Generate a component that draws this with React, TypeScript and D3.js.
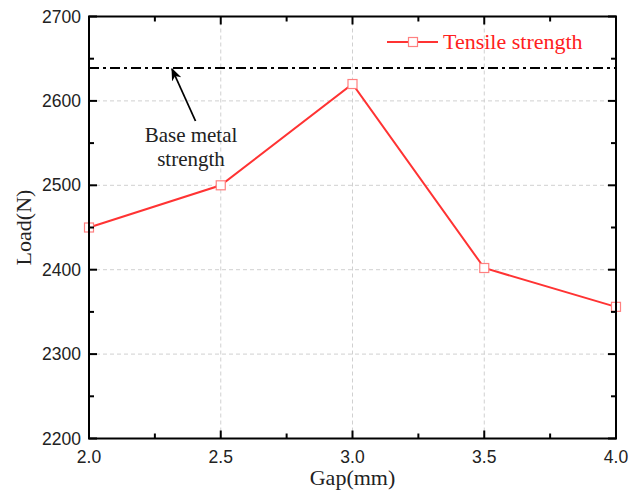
import * as d3 from 'd3';

// gap (mm) vs tensile load (N)
const gaps = [2.0, 2.5, 3.0, 3.5, 4.0];
const loads = [2450, 2500, 2620, 2402, 2356];
const baseMetal = 2639;
const xTicks = [2.0, 2.5, 3.0, 3.5, 4.0];
const yTicks = [2200, 2300, 2400, 2500, 2600, 2700];

const W = 641;
const H = 494;
const m = { left: 89, right: 25, top: 16.5, bottom: 55.5 };

export default function App() {
	const x = d3.scaleLinear().domain([2, 4]).range([m.left, W - m.right]);
	const y = d3.scaleLinear().domain([2200, 2700]).range([H - m.bottom, m.top]);

	const line = d3
		.line<number>()
		.x((_, i) => x(gaps[i]))
		.y((d) => y(d));

	const xMinor = d3.range(2.25, 4, 0.5);
	const yMinor = d3.range(2250, 2700, 100);
	const x0 = x.range()[0], x1 = x.range()[1];
	const y0 = y.range()[0], y1 = y.range()[1];

	const serif = '"Liberation Serif", "Times New Roman", serif';
	const sans = '"Liberation Sans", Arial, sans-serif';

	return (
		<svg width={W} height={H} style={{ position: 'absolute', left: 0, top: 0 }}>
			<defs>
				<marker id='arr' viewBox='0 0 10 10' refX='9' refY='5' markerWidth='7' markerHeight='7' orient='auto'>
					<path d='M0,1 L10,5 L0,9 L3,5 z' fill='#000' />
				</marker>
			</defs>
			<rect width={W} height={H} fill='#fff' />

			{/* grid */}
			{xTicks.slice(1, -1).map((t) => (
				<line key={'gx' + t} x1={x(t)} x2={x(t)} y1={y0} y2={y1} stroke='#d0d0d0' strokeDasharray='4,3' />
			))}
			{yTicks.slice(1, -1).map((t) => (
				<line key={'gy' + t} x1={x0} x2={x1} y1={y(t)} y2={y(t)} stroke='#d0d0d0' strokeDasharray='4,3' />
			))}

			{/* base metal line */}
			<line x1={x0} x2={x1} y1={y(baseMetal)} y2={y(baseMetal)} stroke='#000' strokeWidth={2} strokeDasharray='10,4,3,4' />

			{/* series */}
			<path d={line(loads) ?? ''} fill='none' stroke='#ff3333' strokeWidth={2} />
			{loads.map((v, i) => (
				<rect key={i} x={x(gaps[i]) - 4.5} y={y(v) - 4.5} width={9} height={9} fill='#fff' stroke='#ff8080' strokeWidth={1.2} />
			))}

			{/* frame + ticks (inward) */}
			<rect x={x0} y={y1} width={x1 - x0} height={y0 - y1} fill='none' stroke='#000' strokeWidth={2} />
			{xTicks.map((t) => (
				<g key={'xt' + t}>
					<line x1={x(t)} x2={x(t)} y1={y0} y2={y0 - 8} stroke='#000' strokeWidth={2} />
					<line x1={x(t)} x2={x(t)} y1={y1} y2={y1 + 8} stroke='#000' strokeWidth={2} />
					<text x={x(t)} y={y0 + 24} textAnchor='middle' fontFamily={sans} fontSize={17.5} fill='#222'>
						{t.toFixed(1)}
					</text>
				</g>
			))}
			{xMinor.map((t) => (
				<g key={'xm' + t}>
					<line x1={x(t)} x2={x(t)} y1={y0} y2={y0 - 5} stroke='#000' strokeWidth={2} />
					<line x1={x(t)} x2={x(t)} y1={y1} y2={y1 + 5} stroke='#000' strokeWidth={2} />
				</g>
			))}
			{yTicks.map((t) => (
				<g key={'yt' + t}>
					<line x1={x0} x2={x0 + 8} y1={y(t)} y2={y(t)} stroke='#000' strokeWidth={2} />
					<line x1={x1} x2={x1 - 8} y1={y(t)} y2={y(t)} stroke='#000' strokeWidth={2} />
					<text x={x0 - 8} y={y(t) + 6} textAnchor='end' fontFamily={sans} fontSize={17.5} fill='#222'>
						{t}
					</text>
				</g>
			))}
			{yMinor.map((t) => (
				<g key={'ym' + t}>
					<line x1={x0} x2={x0 + 5} y1={y(t)} y2={y(t)} stroke='#000' strokeWidth={2} />
					<line x1={x1} x2={x1 - 5} y1={y(t)} y2={y(t)} stroke='#000' strokeWidth={2} />
				</g>
			))}

			{/* axis titles */}
			<text x={(x0 + x1) / 2} y={485} textAnchor='middle' fontFamily={serif} fontSize={22} fill='#222'>
				Gap(mm)
			</text>
			<text transform={`translate(31,${(y0 + y1) / 2}) rotate(-90)`} textAnchor='middle' fontFamily={serif} fontSize={22} fill='#222'>
				Load(N)
			</text>

			{/* legend */}
			<line x1={387} x2={438} y1={42} y2={42} stroke='#ff3333' strokeWidth={2} />
			<rect x={408.5} y={37.5} width={9} height={9} fill='#fff' stroke='#ff8080' strokeWidth={1.2} />
			<text x={443} y={49} fontFamily={serif} fontSize={22} fill='#ff2020'>
				Tensile strength
			</text>

			{/* annotation */}
			<line x1={195.5} y1={121} x2={172} y2={69} stroke='#000' strokeWidth={1.8} markerEnd='url(#arr)' />
			<text x={191} y={142} textAnchor='middle' fontFamily={serif} fontSize={21} fill='#222'>
				Base metal
			</text>
			<text x={191} y={166} textAnchor='middle' fontFamily={serif} fontSize={21} fill='#222'>
				strength
			</text>
		</svg>
	);
}
